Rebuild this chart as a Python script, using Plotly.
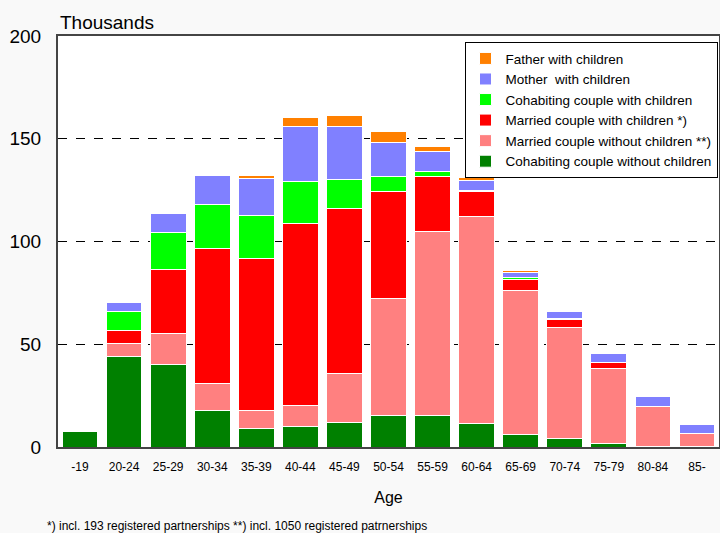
import plotly.graph_objects as go

# Households by age of reference person, thousands
ages = ["-19", "20-24", "25-29", "30-34", "35-39", "40-44", "45-49", "50-54",
        "55-59", "60-64", "65-69", "70-74", "75-79", "80-84", "85-"]

cohab_no_children = [7.5, 44.0, 40.3, 18.0, 8.9, 9.9, 12.0, 15.3, 15.3, 11.6, 5.9, 4.2, 1.5, 0.3, 0.3]
married_no_children = [0.0, 6.2, 14.8, 12.7, 8.7, 10.1, 23.6, 56.9, 89.7, 100.7, 70.2, 54.0, 36.9, 19.5, 6.2]
married_children = [0.0, 6.5, 31.2, 65.9, 74.3, 88.8, 80.4, 52.3, 26.6, 11.9, 5.4, 3.8, 2.6, 0.0, 0.0]
cohab_children = [0.0, 9.3, 17.9, 21.4, 20.8, 20.6, 14.2, 7.1, 2.7, 0.6, 1.0, 0.3, 0.0, 0.0, 0.0]
mother_children = [0.0, 4.4, 9.3, 14.2, 18.2, 26.4, 26.0, 16.5, 9.3, 5.0, 2.5, 3.7, 4.7, 5.0, 4.4]
father_children = [0.0, 0.0, 0.0, 0.0, 1.3, 4.5, 4.9, 5.2, 2.6, 1.5, 1.0, 0.0, 0.0, 0.0, 0.0]

# stacked from bottom to top
series = [
    ("Cohabiting couple without children", cohab_no_children, "#008000"),
    ("Married couple without children **)", married_no_children, "#FF8080"),
    ("Married couple with children *)", married_children, "#FF0000"),
    ("Cohabiting couple with children", cohab_children, "#00FF00"),
    ("Mother  with children", mother_children, "#8080FF"),
    ("Father with children", father_children, "#FF8000"),
]

font_family = "Liberation Sans, Arial, sans-serif"

fig = go.Figure()
for name, values, color in series:
    fig.add_trace(go.Bar(
        x=ages, y=values, name=name,
        marker=dict(color=color, line=dict(color="white", width=1)),
    ))

fig.update_layout(
    width=720, height=533,
    barmode="stack",
    bargap=0.19,
    margin=dict(l=58, r=1, t=36, b=86, autoexpand=False),
    paper_bgcolor="#f9f9f9",
    plot_bgcolor="white",
    font=dict(family=font_family, size=13, color="black"),
    showlegend=True,
    legend=dict(
        traceorder="reversed",
        x=0.615, y=0.985, xanchor="left", yanchor="top",
        bgcolor="white", bordercolor="black", borderwidth=1,
        font=dict(size=13.5), tracegroupgap=0,
        itemwidth=30,
    ),
)

fig.update_xaxes(
    showline=True, linecolor="#444", linewidth=2, mirror=True,
    ticks="", tickfont=dict(size=12), ticklabelstandoff=8,
    title=dict(text="Age", font=dict(size=16), standoff=18),
)
fig.update_yaxes(
    range=[0, 200], tickvals=[0, 50, 100, 150, 200],
    showline=True, linecolor="#444", linewidth=2, mirror=True,
    showgrid=True, gridcolor="black", griddash="dash", gridwidth=1,
    ticks="", tickfont=dict(size=19), ticklabelstandoff=11,
    zeroline=False,
)

fig.add_annotation(
    xref="paper", yref="paper", x=0, y=1, xanchor="left", yanchor="bottom",
    yshift=1, text="Thousands", showarrow=False, font=dict(size=19),
)
fig.add_annotation(
    xref="paper", yref="paper", x=-0.02, y=0, xanchor="left", yanchor="top",
    yshift=-70, text="*) incl. 193 registered partnerships **) incl. 1050 registered patrnerships",
    showarrow=False, font=dict(size=12),
)

fig.write_html("out.html", config={"displayModeBar": False},
               post_script="document.body.style.margin='0';")
